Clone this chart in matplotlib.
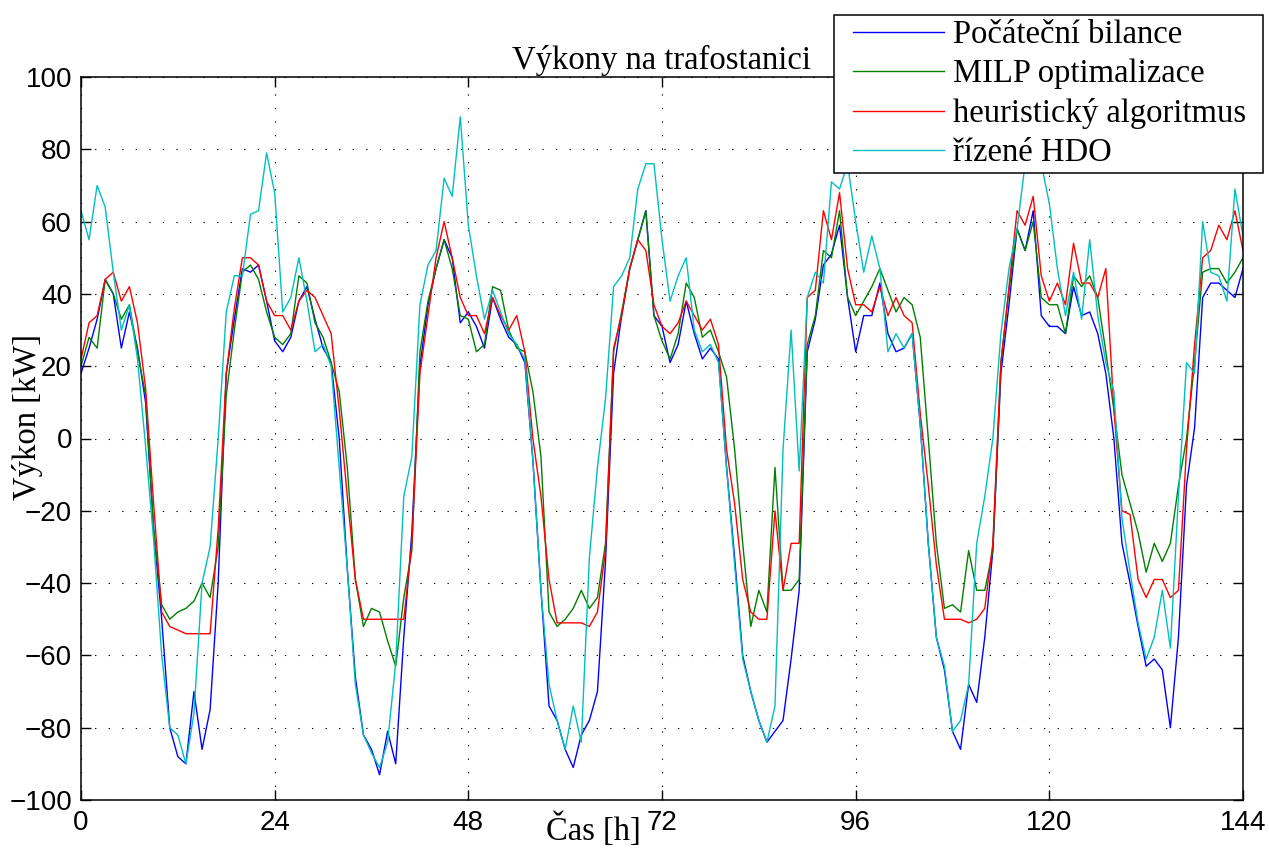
import numpy as np
import matplotlib
matplotlib.use("Agg")
import matplotlib.pyplot as plt
from matplotlib.legend_handler import HandlerLine2D

# hourly samples, 0..144 h
hours = np.arange(0, 145)

pocatecni = [
    18, 25, 33, 44, 40, 25, 35, 25, 10, -25, -50, -80, -88, -90, -70, -86, -75, -40, 18, 33, 47, 46, 48, 38, 27,
    24, 28, 38, 42, 33, 25, 21, 0, -36, -66, -82, -86, -93, -81, -90, -55, -26, 20, 37, 47, 55, 50, 32, 35,
    31, 25, 39, 33, 28, 26, 21, -6, -42, -74, -78, -86, -91, -82, -78, -70, -34, 18, 34, 47, 55, 63, 34, 31,
    21, 26, 38, 29, 22, 25, 22, -8, -33, -60, -70, -78, -84, -81, -78, -61, -42, 24, 33, 48, 51, 59, 39, 24,
    34, 34, 43, 29, 24, 25, 29, 4, -29, -55, -64, -81, -86, -68, -73, -55, -31, 18, 37, 58, 52, 63, 34, 31,
    31, 29, 42, 34, 35, 29, 18, 0, -29, -40, -52, -63, -61, -64, -80, -55, -13, 3, 39, 43, 43, 41, 39, 47,
]

milp = [
    20, 28, 25, 44, 40, 33, 37, 24, 12, -25, -46, -50, -48, -47, -45, -40, -44, -30, 12, 30, 46, 48, 44, 35, 28,
    26, 29, 45, 43, 32, 28, 21, 13, -8, -39, -52, -47, -48, -56, -63, -44, -31, 24, 38, 47, 55, 47, 34, 33,
    24, 26, 42, 41, 30, 25, 24, 13, -5, -48, -52, -50, -47, -42, -47, -44, -29, 24, 35, 47, 55, 63, 34, 27,
    22, 29, 43, 39, 28, 30, 24, 17, -3, -29, -52, -42, -48, -8, -42, -42, -39, 26, 34, 52, 50, 63, 39, 34,
    38, 42, 47, 41, 35, 39, 37, 28, 0, -29, -47, -46, -48, -31, -42, -42, -31, 21, 41, 58, 52, 60, 39, 37,
    37, 29, 45, 42, 45, 39, 24, 8, -10, -18, -26, -37, -29, -34, -29, -13, 0, 21, 46, 47, 47, 43, 46, 50,
]

heuristika = [
    22, 32, 34, 44, 46, 38, 42, 32, 14, -18, -48, -52, -53, -54, -54, -54, -54, -25, 18, 36, 50, 50, 48, 38, 34,
    34, 30, 38, 41, 39, 34, 29, 8, -16, -39, -50, -50, -50, -50, -50, -50, -29, 18, 34, 50, 60, 50, 39, 34,
    34, 29, 39, 34, 30, 34, 24, 0, -16, -39, -51, -51, -51, -51, -52, -48, -31, 25, 34, 47, 55, 52, 37, 31,
    29, 32, 38, 34, 30, 33, 26, -3, -18, -39, -48, -50, -50, -20, -42, -29, -29, 39, 41, 63, 55, 68, 47, 37,
    37, 35, 42, 34, 39, 34, 32, 7, -13, -35, -50, -50, -50, -51, -50, -47, -29, 21, 42, 63, 59, 67, 45, 38,
    43, 37, 54, 43, 43, 39, 47, 8, -20, -21, -39, -44, -39, -39, -44, -42, -3, 26, 50, 52, 59, 55, 63, 52,
]

hdo = [
    63, 55, 70, 64, 46, 30, 37, 22, -2, -28, -60, -80, -82, -90, -76, -40, -30, 0, 35, 45, 45, 62, 63, 79, 68,
    35, 39, 50, 38, 24, 26, 20, -8, -36, -68, -82, -87, -91, -84, -62, -16, -5, 37, 48, 52, 72, 67, 89, 59,
    45, 33, 41, 35, 29, 26, 22, -6, -42, -68, -78, -86, -74, -84, -33, -8, 11, 42, 45, 50, 69, 76, 76, 55,
    38, 45, 50, 30, 24, 26, 21, -8, -35, -61, -70, -78, -84, -74, -3, 30, -9, 39, 46, 43, 71, 69, 76, 60,
    46, 56, 47, 24, 29, 25, 29, 4, -29, -55, -63, -81, -78, -68, -29, -16, 0, 29, 47, 58, 76, 76, 76, 65,
    47, 34, 46, 33, 55, 34, 21, 13, -22, -37, -51, -61, -55, -42, -58, -16, 21, 18, 60, 46, 45, 38, 69, 56,
]

labels = ['Počáteční bilance', 'MILP optimalizace', 'heuristický algoritmus', 'řízené HDO']
colors = ['#0000ff', '#008000', '#ff0000', '#00bfbf']

for s in (pocatecni, milp, heuristika, hdo):
    assert len(s) == len(hours), len(s)

serif = ['Liberation Serif', 'DejaVu Serif']
sans = ['Liberation Sans', 'DejaVu Sans']
fs_serif = 23.5

fig = plt.figure(figsize=(12.69, 8.52), dpi=100)
ax = fig.add_axes([81 / 1269, 1 - 800 / 852, (1243 - 81) / 1269, (800 - 77) / 852])

for data, lab, col in zip((pocatecni, milp, heuristika, hdo), labels, colors):
    ax.plot(hours, data, color=col, lw=1.0, label=lab)

ax.set_xlim(0, 144)
ax.set_ylim(-100, 100)
ax.set_xticks(np.arange(0, 145, 24))
ax.set_yticks(np.arange(-100, 101, 20))
ax.set_yticklabels([str(v).replace('-', '\u2212') for v in range(-100, 101, 20)])
ax.tick_params(direction='in', length=7, width=1, top=True, right=True, labelsize=20)
ax.tick_params(axis='y', pad=6.5)
ax.tick_params(axis='x', pad=7)
for t in ax.get_xticklabels() + ax.get_yticklabels():
    t.set_family(sans)
ax.grid(True, color='black', lw=0.8, linestyle=(0, (1.2, 11)))
for sp in ax.spines.values():
    sp.set_linewidth(1.1)

ax.set_title('Výkony na trafostanici', family=serif, fontsize=fs_serif, pad=6)
ax.set_xlabel('Čas [h]', family=serif, fontsize=fs_serif)
ax.xaxis.set_label_coords(0.441, -0.017)
ax.set_ylabel('Výkon [kW]', family=serif, fontsize=fs_serif)
ax.yaxis.set_label_coords(-0.033, 0.53)

hmap = {h: HandlerLine2D(xpad=0.45) for h in ax.get_lines()}
leg = ax.legend(loc='upper left', bbox_to_anchor=(0.648, 1.0858, 0.369, 0.0), mode='expand',
                prop={'family': serif, 'size': fs_serif}, frameon=True, fancybox=False,
                edgecolor='black', framealpha=1, borderaxespad=0, handlelength=3.23,
                handletextpad=0.28, labelspacing=0.27, borderpad=0.14, handler_map=hmap)
leg.get_frame().set_linewidth(1.1)
leg.set_zorder(5)

fig.savefig('out.png', dpi=100)
